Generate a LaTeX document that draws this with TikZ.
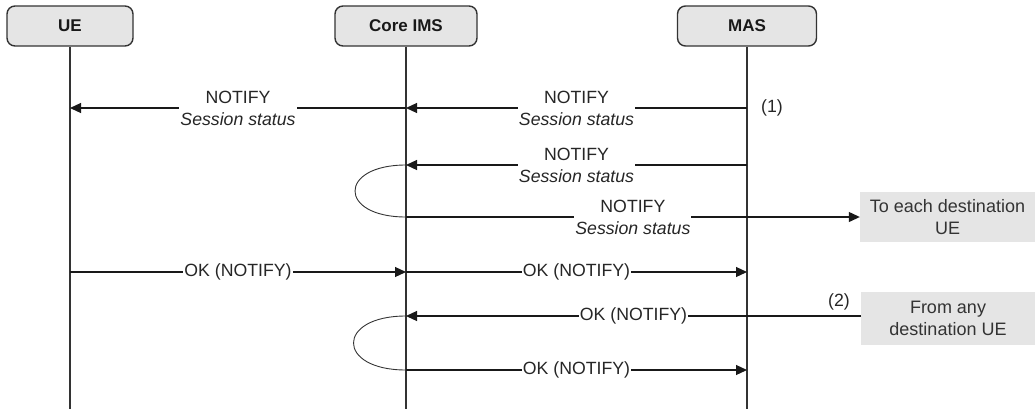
\documentclass[tikz,border=0pt]{standalone}
\usepackage{fontspec}
\setmainfont{Liberation Sans}
\usetikzlibrary{arrows.meta}
\begin{document}
\begin{tikzpicture}[x=1pt,y=-1pt,
  head/.style={draw=black!80, line width=1.4pt, fill=black!10, rounded corners=8pt,
    minimum height=40pt, inner sep=0pt, text=black!90,
    font=\bfseries\fontsize{17}{20}\selectfont},
  life/.style={line width=2pt, draw=black!80},
  msg/.style={line width=1.2pt, draw=black!90, -{Triangle[length=11pt,width=10pt]}},
  loopline/.style={line width=0.9pt, draw=black!80},
  lbl/.style={fill=white, text=black!85, inner sep=1pt, align=center,
    font=\fontsize{17.7}{22}\selectfont},
  refmark/.style={text=black!85, inner sep=0pt, font=\fontsize{17.7}{20}\selectfont},
  notebox/.style={fill=black!10, text=black!80, inner sep=0pt, align=center,
    minimum width=175pt, font=\fontsize{18}{22}\selectfont}]
\useasboundingbox (0,0) rectangle (1035,410);

% heads
\node[head, minimum width=126pt] (ue)  at (70,26)  {UE};
\node[head, minimum width=142pt] (ims) at (406,26) {Core IMS};
\node[head, minimum width=139pt] (mas) at (747,26) {MAS};
\coordinate (ueend)  at (70,409);
\coordinate (imsend) at (406,409);
\coordinate (masend) at (747,409);
\draw[life] (ue.south) -- (ueend);
\draw[life] (ims.south) -- (imsend);
\draw[life] (mas.south) -- (masend);

% notes
\node[notebox, minimum height=50pt] (to) at (947.5,217) {To each destination\\UE};
\node[notebox, minimum height=53pt] (from) at (948,318.5) {From any\\destination UE};

% message 1
\coordinate (a1) at (747,108); \coordinate (b1) at (406,108); \coordinate (c1) at (70,108);
\draw[msg] (a1) -- node[lbl] {NOTIFY\\\textit{Session status}} (b1);
\draw[msg] (b1) -- node[lbl] {NOTIFY\\\textit{Session status}} (c1);
\node[refmark] (n1) at (772,108) {(1)};

% message 2
\coordinate (a2) at (747,165); \coordinate (b2) at (406,165);
\draw[msg] (a2) -- node[lbl] {NOTIFY\\\textit{Session status}} (b2);
\coordinate (b3) at (406,217);
\draw[loopline] (b2) .. controls (338,165) and (338,217) .. (b3);
\draw[msg] (b3) -- node[lbl] {NOTIFY\\\textit{Session status}} (to.west);

% message 4
\coordinate (c4) at (70,272); \coordinate (b4) at (406,272); \coordinate (a4) at (747,272);
\draw[msg] (c4) -- node[lbl] {OK (NOTIFY)} (b4);
\draw[msg] (b4) -- node[lbl] {OK (NOTIFY)} (a4);

% message 5
\coordinate (b5) at (406,316); \coordinate (f5) at (861,316);
\draw[msg] (f5) -- node[lbl] {OK (NOTIFY)} (b5);
\node[refmark] (n2) at (839,302) {(2)};
\coordinate (b6) at (406,370); \coordinate (a6) at (747,370);
\draw[loopline] (b5) .. controls (336,316) and (336,370) .. (b6);
\draw[msg] (b6) -- node[lbl] {OK (NOTIFY)} (a6);
\end{tikzpicture}
\end{document}
